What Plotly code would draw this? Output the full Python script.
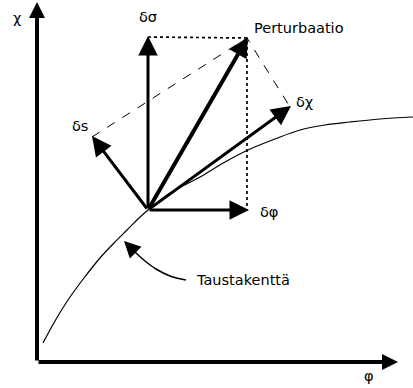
import plotly.graph_objects as go

# ---- diagram data (pixel-like coordinates, y grows downward) ----
origin = (148, 210)
vec_names = ["δφ", "δσ", "δχ", "δs", "Perturbaatio"]
vec_tips_x = [249, 148, 291, 92, 248]
vec_tips_y = [210, 36, 106, 136, 37]
vec_widths = [3, 3, 3, 3, 4]
label_x = [269, 148, 304, 80, 252]
label_y = [212, 17, 102, 126, 28]
label_anchor = ["center", "center", "center", "center", "left"]

axis_origin = (37, 362)
axis_tip_x = (398, 362)
axis_tip_y = (37, 2)
axis_label_text = ["φ", "χ"]
axis_label_x = [369, 17]
axis_label_y = [376, 18]

# background field curve
curve_x = [43, 55, 68, 84, 100, 114, 127, 138, 148, 170, 200, 225, 248, 275, 300, 325, 350, 380, 413]
curve_y = [343, 321, 300, 278, 258, 243, 230, 219, 210, 193, 177, 162, 150, 139, 130, 125, 122, 119, 117]

# dotted projection lines
dot_x = [148, 247, 247]
dot_y = [37, 38, 210]
# dashed parallelogram lines
dash_x = [92, 247, 290]
dash_y = [137, 38, 107]

# Taustakenttä pointer
pointer_x = [186, 170, 156, 145, 136, 130]
pointer_y = [280, 276, 269, 261, 253, 247]
pointer_tip = (124, 241)
pointer_text = "Taustakenttä"
pointer_label = (194, 280)

FONT = dict(family="DejaVu Sans", size=14.5, color="black")

fig = go.Figure()

fig.add_trace(go.Scatter(x=curve_x, y=curve_y, mode="lines",
                         line=dict(color="black", width=1.2, shape="spline"),
                         hoverinfo="skip"))
fig.add_trace(go.Scatter(x=dot_x, y=dot_y, mode="lines",
                         line=dict(color="black", width=1.7, dash="dot"),
                         hoverinfo="skip"))
fig.add_trace(go.Scatter(x=dash_x, y=dash_y, mode="lines",
                         line=dict(color="black", width=1, dash="dash"),
                         hoverinfo="skip"))
fig.add_trace(go.Scatter(x=pointer_x, y=pointer_y, mode="lines",
                         line=dict(color="black", width=1.5, shape="spline"),
                         hoverinfo="skip"))

annotations = []
# axes
for tip in (axis_tip_x, axis_tip_y):
    annotations.append(dict(x=tip[0], y=tip[1], ax=axis_origin[0], ay=axis_origin[1],
                            xref="x", yref="y", axref="x", ayref="y", text="",
                            showarrow=True, arrowhead=2, arrowsize=0.8, arrowwidth=4,
                            arrowcolor="black", standoff=0))
for t, lx, ly in zip(axis_label_text, axis_label_x, axis_label_y):
    annotations.append(dict(x=lx, y=ly, text=t, showarrow=False, font=FONT,
                            xref="x", yref="y"))
# vectors
for name, tx, ty, w, lx, ly, anc in zip(vec_names, vec_tips_x, vec_tips_y, vec_widths,
                                         label_x, label_y, label_anchor):
    annotations.append(dict(x=tx, y=ty, ax=origin[0], ay=origin[1],
                            xref="x", yref="y", axref="x", ayref="y", text="",
                            showarrow=True, arrowhead=2, arrowsize=1.3 if w == 3 else 1.0,
                            arrowwidth=w, arrowcolor="black", standoff=0))
    annotations.append(dict(x=lx, y=ly, text=name, showarrow=False, font=FONT,
                            xref="x", yref="y", xanchor=anc))
# pointer head
annotations.append(dict(x=pointer_tip[0], y=pointer_tip[1], ax=pointer_x[-1], ay=pointer_y[-1],
                        xref="x", yref="y", axref="x", ayref="y", text="",
                        showarrow=True, arrowhead=2, arrowsize=2.2, arrowwidth=1.5,
                        arrowcolor="black", standoff=0))
annotations.append(dict(x=pointer_label[0], y=pointer_label[1], text=pointer_text,
                        showarrow=False, font=FONT, xref="x", yref="y", xanchor="left"))

fig.update_layout(
    width=413, height=388,
    margin=dict(l=0, r=0, t=0, b=0),
    paper_bgcolor="white", plot_bgcolor="white",
    showlegend=False,
    xaxis=dict(range=[0, 413], visible=False, fixedrange=True),
    yaxis=dict(range=[388, 0], visible=False, fixedrange=True),
    annotations=annotations,
)

fig.write_html("out.html", config={"displayModeBar": False},
               post_script="document.body.style.margin='0';document.body.style.overflow='hidden';")
